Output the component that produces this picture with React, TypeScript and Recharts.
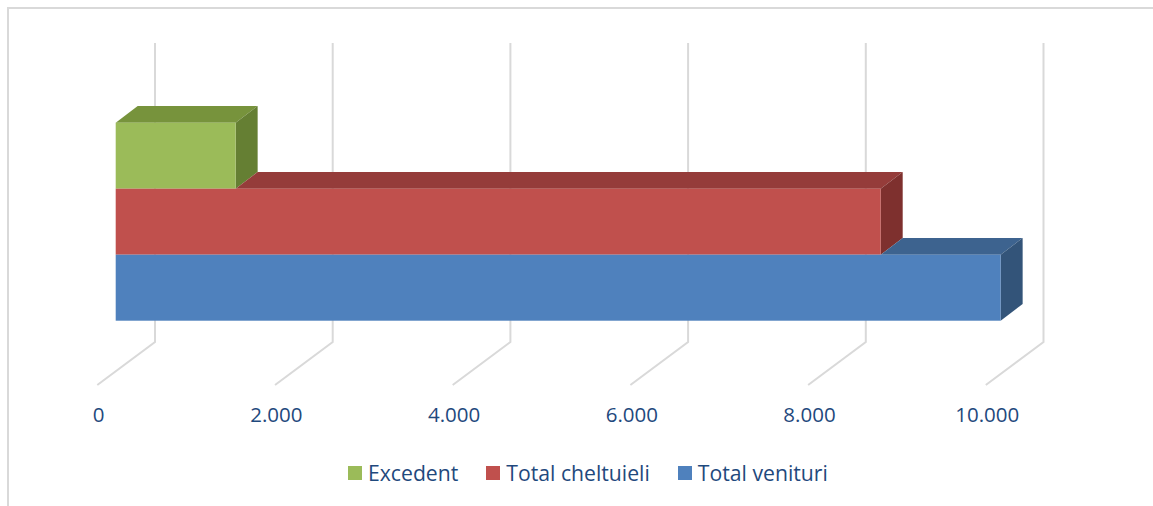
import React from 'react';
import { BarChart, Bar, XAxis, YAxis, CartesianGrid } from 'recharts';

// valori (lei)
const categories = ['Buget'];
const excedent = [1350];
const cheltuieli = [8610];
const venituri = [9960];
const tickValues = [0, 2000, 4000, 6000, 8000, 10000];

const TEXT = '#1F497D';
const FONT = '"Open Sans", sans-serif';
const DX = 22; // adancime 3D
const DY = -16.7;

const SERIES = [
  { key: 'excedent', name: 'Excedent', front: '#9BBB59', top: '#77933C', side: '#657F33', above: null },
  { key: 'cheltuieli', name: 'Total cheltuieli', front: '#C0504D', top: '#953C3A', side: '#7E302E', above: 'excedent' },
  { key: 'venituri', name: 'Total venituri', front: '#4F81BD', top: '#3D638F', side: '#335479', above: 'cheltuieli' },
];

const data = categories.map((name, i) => ({
  name,
  excedent: excedent[i],
  cheltuieli: cheltuieli[i],
  venituri: venituri[i],
}));

const fmt = (v: number) => String(v).replace(/\B(?=(\d{3})+(?!\d))/g, '.');

const make3D = (s: (typeof SERIES)[number]) => (props: any) => {
  const { x, y, width, height, payload } = props;
  const v = payload[s.key];
  let topStart = x;
  if (s.above) {
    // fata de sus e acoperita de bara de deasupra
    const wa = v ? (width * payload[s.above]) / v : 0;
    topStart = x + Math.min(width, Math.max(0, wa));
  }
  const xr = x + width;
  return (
    <g>
      {topStart < xr && (
        <polygon
          points={`${topStart},${y} ${topStart + DX},${y + DY} ${xr + DX},${y + DY} ${xr},${y}`}
          fill={s.top}
        />
      )}
      <polygon
        points={`${xr},${y} ${xr + DX},${y + DY} ${xr + DX},${y + height + DY} ${xr},${y + height}`}
        fill={s.side}
      />
      <rect x={x} y={y} width={width} height={height} fill={s.front} />
    </g>
  );
};

const gridLine = (p: any) => {
  const xb = p.x1 + 39.3;
  return (
    <polyline
      key={`g-${p.index}-${p.x1}`}
      points={`${xb},43 ${xb},342 ${xb - 57.7},385`}
      fill="none"
      stroke="#D9D9D9"
      strokeWidth={2}
    />
  );
};

const Tick = (props: any) => {
  const { x, payload } = props;
  return (
    <text x={x - 17} y={422} textAnchor="middle" fill={TEXT} fontSize={20.5} fontFamily={FONT}>
      {fmt(payload.value)}
    </text>
  );
};

export default function App() {
  return (
    <div style={{ position: 'absolute', left: 0, top: 0, width: 1153, height: 506, background: '#fff', overflow: 'hidden' }}>
      <div
        style={{
          position: 'absolute',
          left: 7,
          top: 7,
          width: 1160,
          height: 520,
          borderTop: '2px solid #D9D9D9',
          borderLeft: '2px solid #D9D9D9',
        }}
      />
      <div style={{ position: 'absolute', left: 0, top: 0 }}>
        <BarChart
          width={1153}
          height={506}
          data={data}
          layout="vertical"
          barCategoryGap={0}
          barGap={0}
          margin={{ top: 122.7, right: 148.8, left: 115.7, bottom: 154.3 }}
        >
          <CartesianGrid horizontal={false} vertical={gridLine} />
          <XAxis
            type="number"
            domain={[0, 10000]}
            ticks={tickValues}
            axisLine={false}
            tickLine={false}
            height={30}
            tick={Tick}
          />
          <YAxis type="category" dataKey="name" hide width={0} />
          {SERIES.map((s) => (
            <Bar key={s.key} dataKey={s.key} name={s.name} fill={s.front} shape={make3D(s)} isAnimationActive={false} />
          ))}
        </BarChart>
      </div>
      <div
        style={{
          position: 'absolute',
          left: 348,
          top: 458,
          display: 'flex',
          alignItems: 'center',
          fontFamily: FONT,
          fontSize: 21.2,
          color: TEXT,
          whiteSpace: 'nowrap',
        }}
      >
        {SERIES.map((s) => (
          <div key={s.key} style={{ display: 'flex', alignItems: 'center', marginRight: 28 }}>
            <span style={{ width: 14, height: 14, background: s.front, marginRight: 6, display: 'inline-block' }} />
            <span>{s.name}</span>
          </div>
        ))}
      </div>
    </div>
  );
}
